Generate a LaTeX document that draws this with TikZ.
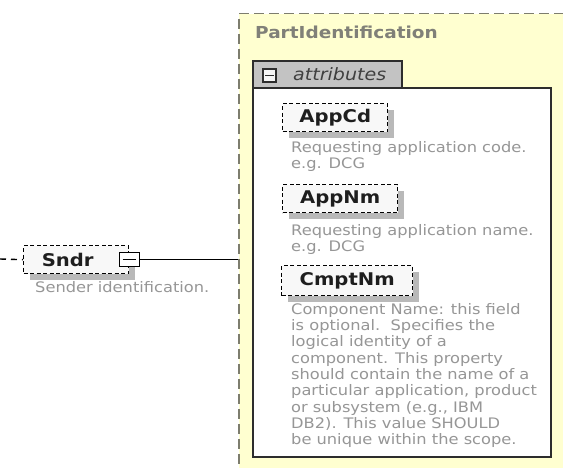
\documentclass[tikz,border=0pt]{standalone}
\usepackage{fontspec}
\setmainfont{DejaVu Sans}[FakeStretch=1.12]
\usetikzlibrary{shadows}
\definecolor{partyellow}{RGB}{255,255,208}
\definecolor{dashgray}{RGB}{125,125,110}
\definecolor{titlegray}{RGB}{128,128,120}
\definecolor{tabgray}{RGB}{195,195,195}
\definecolor{boxborder}{RGB}{45,45,45}
\definecolor{elemfill}{RGB}{248,248,248}
\definecolor{shadowgray}{RGB}{185,185,185}
\definecolor{descgray}{RGB}{150,150,150}
\definecolor{labelblack}{RGB}{30,30,30}
\begin{document}
\begin{tikzpicture}[x=1pt,y=-1pt,
  elem/.style={draw=black, line width=1.4pt, dash pattern=on 4pt off 2.5pt, fill=elemfill,
    minimum height=28pt, inner sep=0pt, anchor=north west,
    font=\fontsize{17.5}{20}\selectfont\bfseries, text=labelblack,
    drop shadow={shadow xshift=6pt, shadow yshift=-6pt, fill=shadowgray, opacity=1}},
  desc/.style={anchor=north west, inner sep=0pt, align=left,
    font=\fontsize{14.5}{16.3}\selectfont, text=descgray},
  minusicon/.style={draw=black, line width=1.4pt, fill=white, inner sep=0pt},
]
\useasboundingbox (0,0) rectangle (563,468);
\clip (0,0) rectangle (563,468);

% outer complex type box
\node[draw=dashgray, line width=1.5pt, dash pattern=on 10pt off 5pt, fill=partyellow,
      anchor=north west, minimum width=340pt, minimum height=470pt, inner sep=0pt]
      (part) at (238,13) {};
\node[anchor=base west, inner sep=0pt, font=\fontsize{16.5}{18}\selectfont\bfseries,
      text=titlegray] (title) at (255,39) {PartIdentification};

% attributes group
\filldraw[fill=tabgray, draw=boxborder, line width=1.6pt]
  (253,88) -- (253,61) -- (402,61) -- (402,88) -- cycle;
\filldraw[fill=white, draw=boxborder, line width=1.6pt] (253,88) rectangle (551,457);
\node[minusicon, draw=boxborder, fill=white!92!gray, minimum width=13pt, minimum height=13pt]
  (attricon) at (269.5,75.5) {};
\draw[line width=1.3pt, boxborder] ([xshift=3pt]attricon.west) -- ([xshift=-3pt]attricon.east);
\node[anchor=base west, inner sep=0pt, font=\fontsize{17}{19}\selectfont\itshape,
      text=labelblack!85] (attrs) at (293,81) {attributes};

% attributes
\node[elem, minimum width=105pt] (appcd) at (282,103) {AppCd};
\node[desc] (appcddesc) at (291,141) {Requesting application code.\\e.g. DCG};
\node[elem, minimum width=115pt] (appnm) at (282,184) {AppNm};
\node[desc] (appnmdesc) at (291,224) {Requesting application name.\\e.g. DCG};
\node[elem, minimum width=131pt, minimum height=30pt] (cmptnm) at (281,265) {CmptNm};
\node[desc] (cmptdesc) at (291,303) {Component Name: this field\\
  is optional.\ \ Specifies the\\
  logical identity of a\\
  component. This property\\
  should contain the name of a\\
  particular application, product\\
  or subsystem (e.g., IBM\\
  DB2). This value SHOULD\\
  be unique within the scope.};

% Sndr element
\node[elem, minimum width=105pt] (sndr) at (23,245) {Sndr\hspace*{17pt}};
\coordinate (stub) at (0,259);
\draw[line width=1.4pt, dash pattern=on 6pt off 5pt] (stub) -- (sndr.west);
\node[minusicon, minimum width=20pt, minimum height=14pt] (sndricon) at (sndr.east) {};
\draw[line width=1.3pt] ([xshift=4pt]sndricon.west) -- ([xshift=-4pt]sndricon.east);
\draw[line width=1.6pt] (sndricon.east) -- (sndricon.east -| part.west);
\node[desc] (sndrdesc) at (35,281) {Sender identification.};
\end{tikzpicture}
\end{document}
